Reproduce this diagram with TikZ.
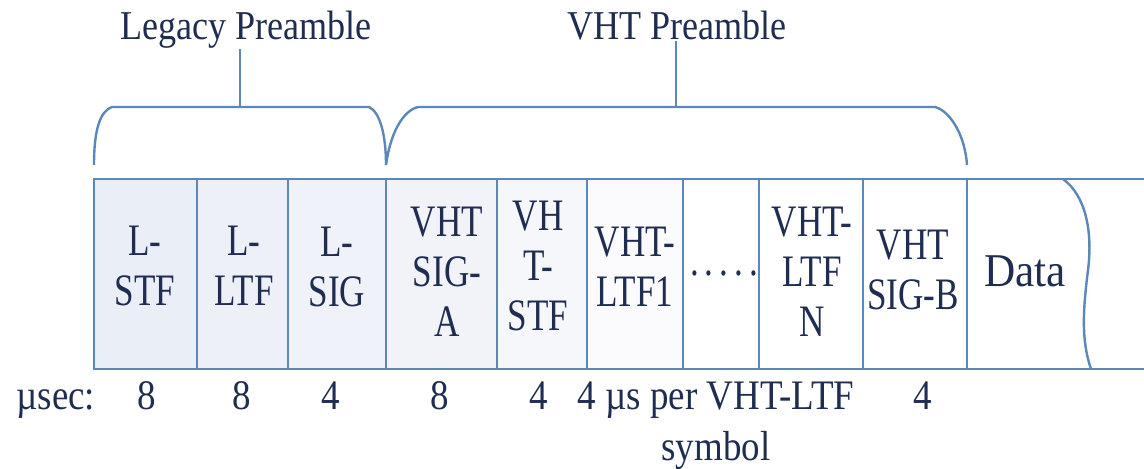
\documentclass[tikz,border=0pt]{standalone}
\usepackage{fontspec}
\setmainfont{Liberation Serif}
\newfontfamily\boxfont[FakeStretch=0.78]{Liberation Serif}
\newfontfamily\datafont[FakeStretch=0.92]{Liberation Serif}
\newfontfamily\lblfont[FakeStretch=0.88]{Liberation Serif}
\definecolor{ln}{HTML}{5B87B9}
\definecolor{tx}{HTML}{1F2D50}
\definecolor{fa}{HTML}{EAEEF6}
\definecolor{fb}{HTML}{EDF0F7}
\definecolor{fc}{HTML}{EFF2F8}
\definecolor{fd}{HTML}{F1F3F9}
\definecolor{fe}{HTML}{F6F7FB}
\definecolor{ff}{HTML}{FBFBFD}
\begin{document}
\begin{tikzpicture}[x=0.5pt,y=-0.5pt,
  seg/.style={draw=ln,line width=1.2pt,minimum height=95pt,inner sep=0pt,outer sep=0pt,anchor=north west},
  bt/.style={font=\boxfont\fontsize{22.5}{25}\selectfont,text=tx,align=center,inner sep=0pt},
  lt/.style={font=\lblfont\fontsize{20.5}{24}\selectfont,text=tx,inner sep=0pt,anchor=base},
  ut/.style={font=\lblfont\fontsize{21}{25}\selectfont,text=tx,inner sep=0pt,anchor=base},
  brc/.style={draw=ln,line width=1.2pt}]
\useasboundingbox (0,0) rectangle (1144,469);
% segments
\node[seg,minimum width=51.5pt,fill=fa] (lstf) at (94,179) {};
\node[seg,minimum width=45.5pt,fill=fb] (lltf) at (lstf.north east) {};
\node[seg,minimum width=49pt,fill=fc] (lsig) at (lltf.north east) {};
\node[seg,minimum width=55.5pt,fill=fd] (siga) at (lsig.north east) {};
\node[seg,minimum width=45pt,fill=fe] (vstf) at (siga.north east) {};
\node[seg,minimum width=48pt,fill=ff] (ltf1) at (vstf.north east) {};
\node[seg,minimum width=38pt,fill=white] (dots) at (ltf1.north east) {};
\node[seg,minimum width=52pt,fill=white] (ltfn) at (dots.north east) {};
\node[seg,minimum width=52pt,fill=white] (sigb) at (ltfn.north east) {};
\coordinate (tr) at (1144,179);
\coordinate (brr) at (1144,369);
\draw[brc] (sigb.north east) -- (tr);
\draw[brc] (sigb.south east) -- (brr);
\draw[brc] (1063,179) .. controls (1085,195) and (1093,230) .. (1088,270)
  .. controls (1083,310) and (1081,340) .. (1091,369);
% segment texts
\node[bt] (tlstf) at (145,266) {L-\\STF};
\node[bt] (tlltf) at (244,266) {L-\\LTF};
\node[bt] (tlsig) at (337,267) {L-\\SIG};
\node[bt] (tsiga) at (447,272) {VHT\\SIG-\\A};
\node[bt] (tvstf) at (538,266) {VH\\T-\\STF};
\node[bt] (tltf1) at (635,267) {VHT-\\LTF1};
\node[bt,anchor=base] (tdots) at (724,276) {.\kern3pt.\kern3pt.\kern3pt.\kern3pt.};
\node[bt] (tltfn) at (812,272) {VHT-\\LTF\\N};
\node[bt] (tsigb) at (913,270) {VHT\\SIG-B};
\node[bt,font=\datafont\fontsize{23.5}{25}\selectfont] (tdata) at (1025,271) {Data};
% braces
\coordinate (l0) at (94,165);
\coordinate (lm) at (240,107);
\coordinate (l1) at (386,165);
\coordinate (vm) at (676,107);
\coordinate (v1) at (967,165);
\draw[brc] (l0) .. controls (94,130) and (100,111) .. (112,107) -- (369,107)
  .. controls (380,112) and (386,135) .. (l1);
\draw[brc] (l1) .. controls (390,135) and (402,111) .. (418,107) -- (935,107)
  .. controls (950,111) and (965,135) .. (v1);
\node[lt] (leg) at (246,40) {Legacy Preamble};
\node[lt] (vht) at (677,40) {VHT Preamble};
\draw[brc] (lm) -- (lm |- leg.south);
\draw[brc] (vm) -- (vm |- vht.south);
% durations
\node[ut,anchor=base west] (usec) at (16,410) {µsec:};
\node[ut] (d1) at (147,410) {8};
\node[ut] (d2) at (242,410) {8};
\node[ut] (d3) at (331,410) {4};
\node[ut] (d4) at (440,410) {8};
\node[ut] (d5) at (539,410) {4};
\node[ut] (d6) at (716,410) {4 µs per VHT-LTF};
\node[ut] (d6b) at (716,460) {symbol};
\node[ut] (d7) at (923,410) {4};
\end{tikzpicture}
\end{document}
